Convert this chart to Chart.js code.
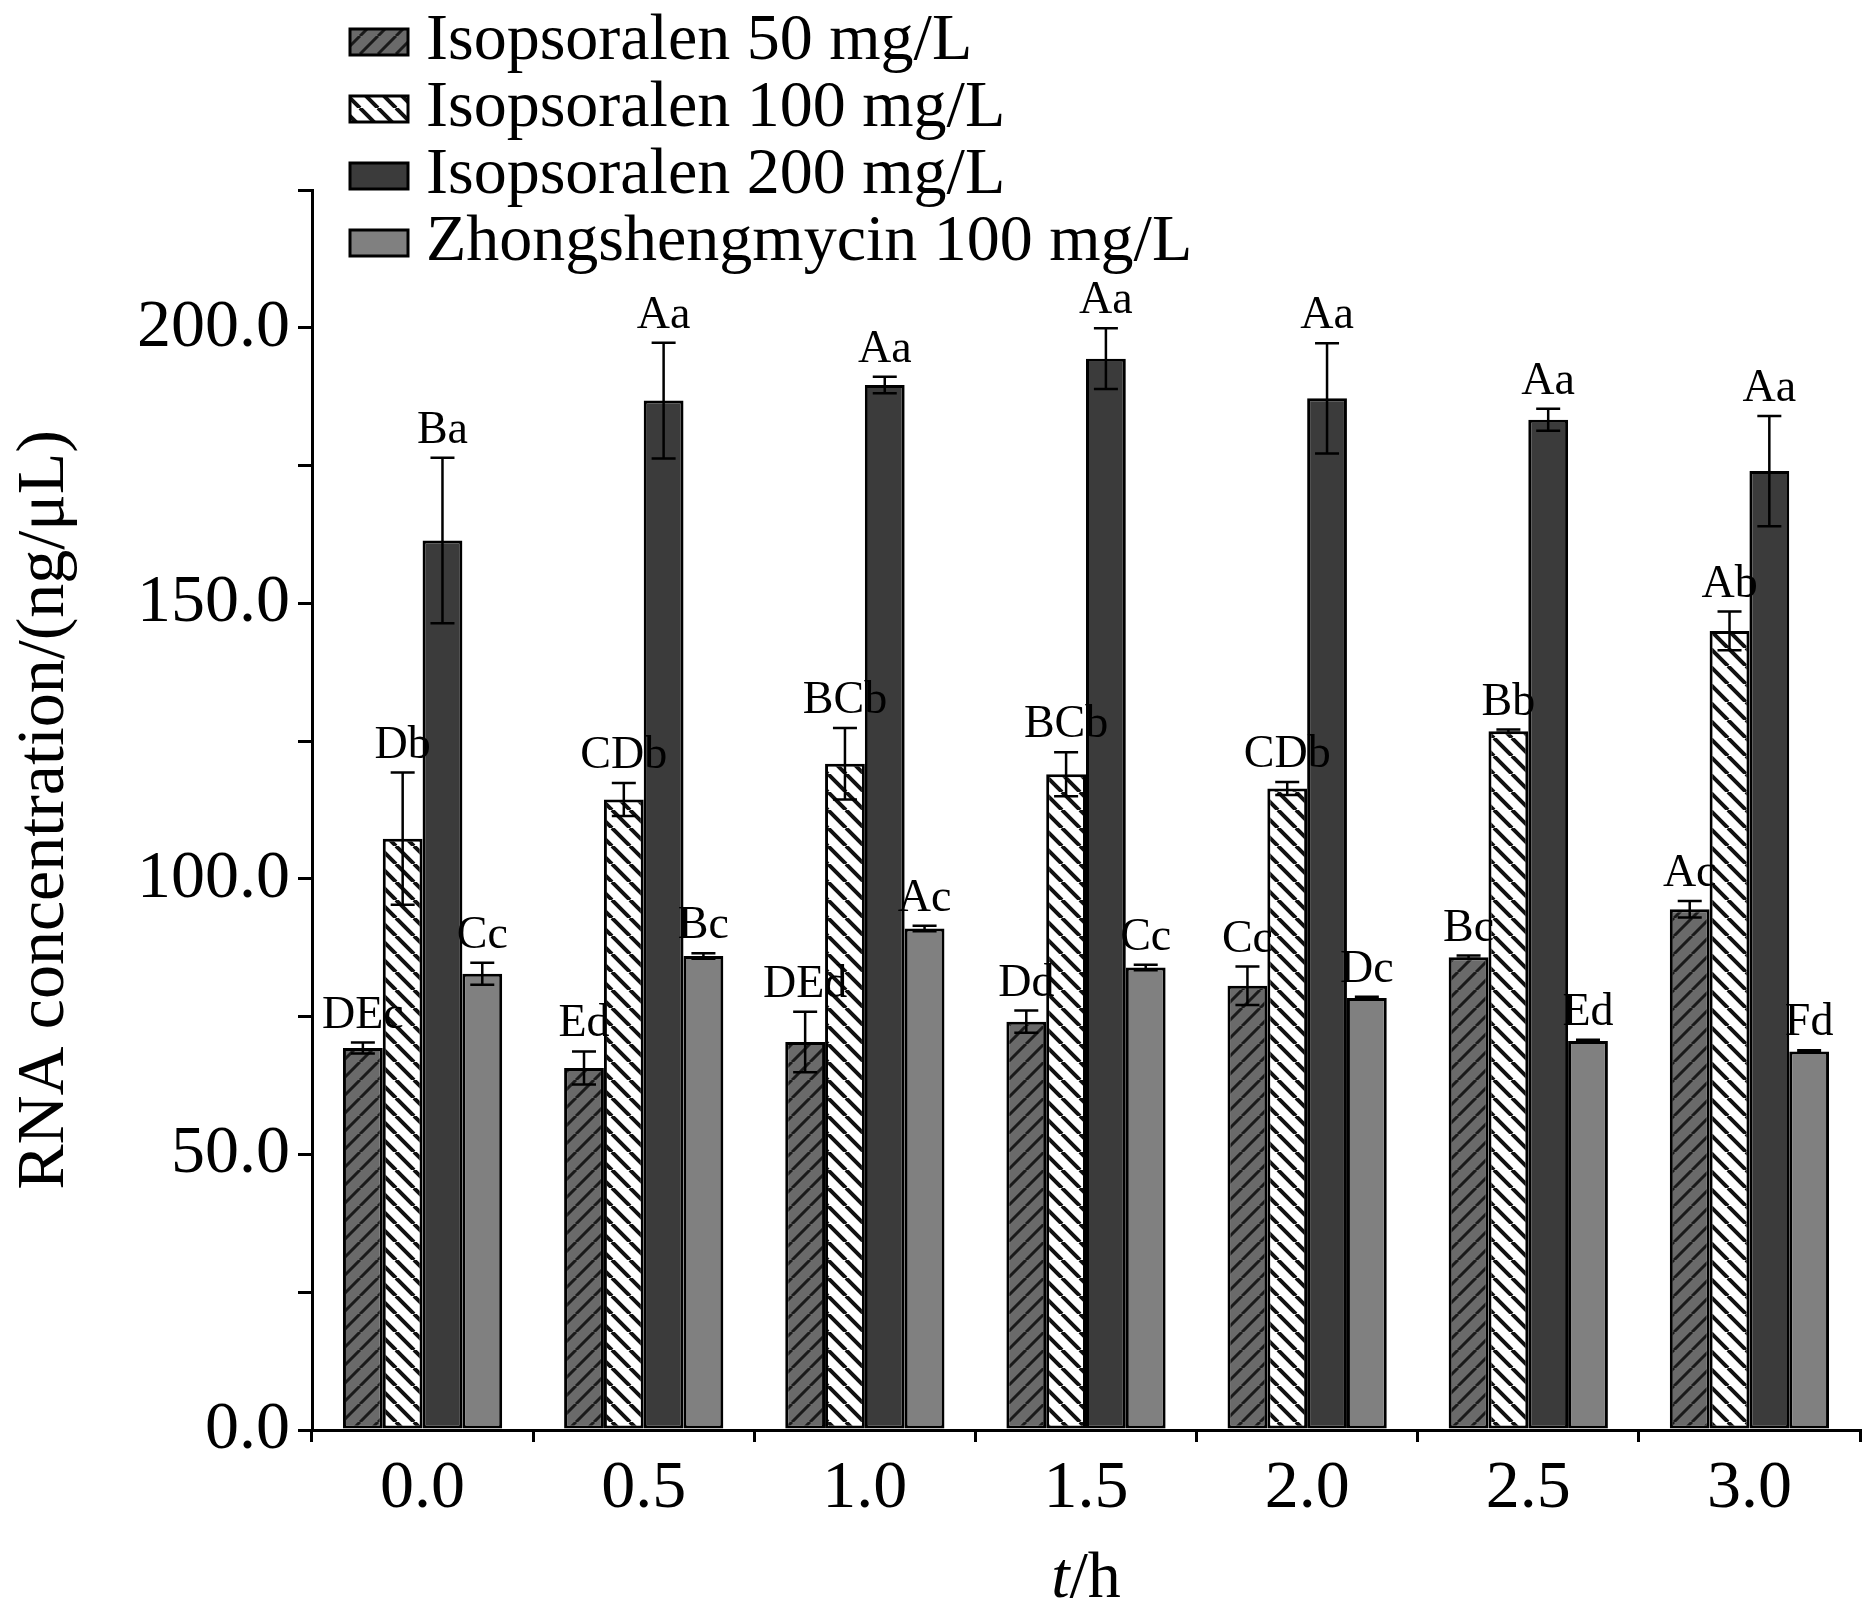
<!DOCTYPE html>
<html><head><meta charset="utf-8">
<script src="https://cdn.jsdelivr.net/npm/chart.js@4/dist/chart.umd.min.js"></script>
<style>html,body{margin:0;background:#fff}#wrap{width:1868px;height:1624px}</style>
</head><body><div id="wrap"><canvas id="c"></canvas></div>
<script>
const categories = ['0.0','0.5','1.0','1.5','2.0','2.5','3.0'];
const seriesNames = ['Isopsoralen 50 mg/L','Isopsoralen 100 mg/L','Isopsoralen 200 mg/L','Zhongshengmycin 100 mg/L'];
const iso50 = [69.3,65.7,70.4,74.1,80.6,85.8,94.5];
const iso50Err = [1,3,5.5,2,3.5,0.3,1.5];
const iso50Lbl = ['DEc','Ed','DEd','Dd','Cc','Bc','Ac'];
const iso100 = [107.3,114.4,120.9,119,116.4,126.8,145];
const iso100Err = [12,3,6.5,4,1.2,0.3,3.5];
const iso100Lbl = ['Db','CDb','BCb','BCb','CDb','Bb','Ab'];
const iso200 = [161.4,186.8,189.6,194.4,187.2,183.3,174];
const iso200Err = [15,10.5,1.5,5.5,10,2,10];
const iso200Lbl = ['Ba','Aa','Aa','Aa','Aa','Aa','Aa'];
const zhong = [82.8,86,91,83.9,78.4,70.6,68.7];
const zhongErr = [2,0.5,0.5,0.5,0.2,0.2,0.2];
const zhongLbl = ['Cc','Bc','Ac','Cc','Dc','Ed','Fd'];

const FONT = '"Liberation Serif", "Times New Roman", serif';
const ctx0 = document.getElementById('c').getContext('2d');
function hatch(bg, fg, dir, lw) {
  const s = 18, p = document.createElement('canvas'); p.width = p.height = s;
  const g = p.getContext('2d');
  g.fillStyle = bg; g.fillRect(0,0,s,s);
  g.strokeStyle = fg; g.lineWidth = lw;
  g.beginPath();
  for (let k = -1; k <= 1; k++) {
    if (dir > 0) { g.moveTo(k*s, s); g.lineTo(k*s+s, 0); }
    else { g.moveTo(k*s, 0); g.lineTo(k*s+s, s); }
  }
  g.stroke();
  return ctx0.createPattern(p, 'repeat');
}
const fills = [hatch('#6a6a6a','#1a1a1a',1,3), hatch('#ffffff','#111111',-1,4), '#3b3b3b', '#808080'];
const errs = [iso50Err, iso100Err, iso200Err, zhongErr];
const lbls = [iso50Lbl, iso100Lbl, iso200Lbl, zhongLbl];

const extras = {
  id: 'extras',
  afterDatasetsDraw(chart) {
    const c = chart.ctx;
    c.save();
    chart.data.datasets.forEach((ds, di) => {
      const meta = chart.getDatasetMeta(di), y = chart.scales.y;
      meta.data.forEach((bar, i) => {
        const v = ds.data[i], e = errs[di][i];
        const yt = y.getPixelForValue(v + e), yb = y.getPixelForValue(v - e);
        c.strokeStyle = '#000'; c.lineWidth = 2.5;
        c.beginPath();
        c.moveTo(bar.x, yt); c.lineTo(bar.x, yb);
        c.moveTo(bar.x-12, yt); c.lineTo(bar.x+12, yt);
        c.moveTo(bar.x-12, yb); c.lineTo(bar.x+12, yb);
        c.stroke();
        c.fillStyle = '#000'; c.font = '46px ' + FONT;
        c.textAlign = 'center'; c.textBaseline = 'bottom';
        c.fillText(lbls[di][i], bar.x, yt - 4);
      });
    });
    // legend
    c.font = '66px ' + FONT; c.textAlign = 'left'; c.textBaseline = 'middle';
    seriesNames.forEach((n, k) => {
      const yy = 42 + k * 67;
      c.fillStyle = fills[k]; c.fillRect(350, yy-13, 58, 26);
      c.strokeStyle = '#000'; c.lineWidth = 3; c.strokeRect(350, yy-13, 58, 26);
      c.fillStyle = '#000'; c.fillText(n, 426, yy);
    });
    // x title with italic t
    const xa = chart.scales.x;
    const cx = (xa.left + xa.right) / 2, ty = 1580;
    c.textBaseline = 'middle';
    c.font = 'italic 66px ' + FONT;
    const w1 = c.measureText('t').width;
    c.font = '66px ' + FONT;
    const w2 = c.measureText('/h').width;
    let x0 = cx - (w1 + w2) / 2;
    c.font = 'italic 66px ' + FONT; c.fillText('t', x0, ty);
    c.font = '66px ' + FONT; c.fillText('/h', x0 + w1, ty);
    c.restore();
  }
};

new Chart(ctx0, {
  type: 'bar',
  data: {
    labels: categories,
    datasets: [iso50, iso100, iso200, zhong].map((d, k) => ({
      label: seriesNames[k], data: d, backgroundColor: fills[k],
      borderColor: '#000', borderWidth: 3, borderSkipped: false,
      barPercentage: 1, categoryPercentage: 0.72
    }))
  },
  options: {
    responsive: true, maintainAspectRatio: false, animation: false,
    layout: { padding: { top: 190, right: 8, left: 0, bottom: 0 } },
    plugins: { legend: { display: false }, tooltip: { enabled: false } },
    scales: {
      x: {
        afterFit: s => { s.height = 194; },
        grid: { display: true, drawOnChartArea: false, drawTicks: true, tickLength: 12, tickColor: '#000', lineWidth: 3 },
        border: { color: '#000', width: 3 },
        ticks: { color: '#000', font: { family: FONT, size: 68 }, padding: 6 }
      },
      y: {
        min: 0, max: 225,
        afterFit: s => { s.width = 312; },
        afterBuildTicks: s => { s.ticks = [0,25,50,75,100,125,150,175,200,225].map(v => ({ value: v })); },
        grid: { display: true, drawOnChartArea: false, drawTicks: true, tickLength: 14, tickColor: '#000', lineWidth: 3 },
        border: { color: '#000', width: 3 },
        ticks: { color: '#000', font: { family: FONT, size: 68 }, padding: 8,
          callback: v => (v % 50 === 0 && v <= 200) ? v.toFixed(1) : '' },
        title: { display: true, text: 'RNA concentration/(ng/μL)', color: '#000', font: { family: FONT, size: 68 }, padding: { bottom: 2 } }
      }
    }
  },
  plugins: [extras]
});
</script></body></html>
